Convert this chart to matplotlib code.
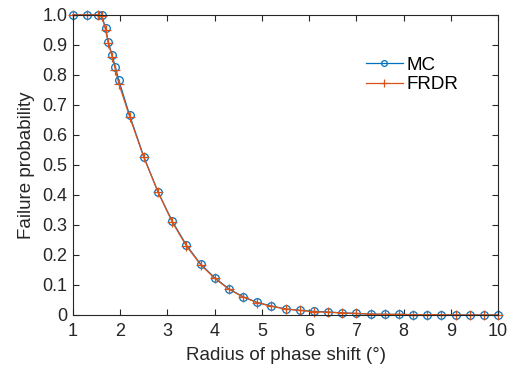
import matplotlib
matplotlib.use("Agg")
import matplotlib.pyplot as plt
import numpy as np

plt.rcParams['font.family'] = ['Liberation Sans', 'DejaVu Sans']

# radius of phase shift (deg)
radius = [1.0, 1.3, 1.52, 1.61, 1.69, 1.75, 1.83, 1.9, 1.97,
          2.2, 2.5, 2.8, 3.1, 3.4, 3.7, 4.0, 4.3, 4.6, 4.9, 5.2, 5.5, 5.8,
          6.1, 6.4, 6.7, 7.0, 7.3, 7.6, 7.9, 8.2, 8.5, 8.8, 9.1, 9.4, 9.7, 10.0]

# failure probability
mc = [1.0, 1.0, 1.0, 0.998, 0.955, 0.908, 0.865, 0.825, 0.782,
      0.665, 0.527, 0.41, 0.313, 0.233, 0.170, 0.124, 0.087, 0.061, 0.042, 0.030, 0.020, 0.016,
      0.012, 0.010, 0.007, 0.005, 0.003, 0.002, 0.002, 0.001, 0.001, 0.001, 0.0, 0.0, 0.0, 0.0]
frdr = [1.0, 1.0, 1.0, 0.996, 0.95, 0.905, 0.86, 0.816, 0.771,
        0.66, 0.525, 0.41, 0.31, 0.23, 0.168, 0.122, 0.086, 0.060, 0.041, 0.029, 0.020, 0.015,
        0.011, 0.009, 0.007, 0.005, 0.003, 0.002, 0.002, 0.001, 0.001, 0.001, 0.0, 0.0, 0.0, 0.0]

x_ticks = np.arange(1, 11)
y_ticks = np.round(np.arange(0, 1.01, 0.1), 1)
y_labels = ['0'] + ['%.1f' % v for v in y_ticks[1:]]

blue = (0.0, 0.447, 0.741)
orange = (0.85, 0.325, 0.098)

fig = plt.figure(figsize=(5.14, 3.71), dpi=100)
ax = fig.add_axes([0.142, 0.151, 0.827, 0.809])

ax.plot(radius, mc, '-o', color=blue, lw=0.9, markersize=5.5,
        markerfacecolor='none', markeredgewidth=0.9, label='MC', clip_on=False)
ax.plot(radius, frdr, '-+', color=orange, lw=0.9, markersize=7,
        markeredgewidth=0.9, label='FRDR', clip_on=False)

ax.set_xlim(1, 10)
ax.set_ylim(0, 1.0)
ax.set_xticks(x_ticks)
ax.set_yticks(y_ticks)
ax.set_yticklabels(y_labels)
ax.tick_params(direction='in', top=True, right=True, labelsize=13,
               length=4.5, width=0.8, colors='#262626', pad=4)
ax.tick_params(axis='x', pad=6)
for s in ax.spines.values():
    s.set_linewidth(0.8)
    s.set_color('#262626')

ax.set_xlabel('Radius of phase shift (°)', fontsize=13.5, color='#262626', labelpad=5)
ax.set_ylabel('Failure probability', fontsize=13.5, color='#262626', labelpad=5)

ax.legend(loc='upper left', bbox_to_anchor=(0.712, 0.847),
          bbox_transform=fig.transFigure, frameon=False, fontsize=13.5,
          borderpad=0, borderaxespad=0, handlelength=1.95, handletextpad=0.2,
          labelspacing=0.12, markerscale=0.75)

fig.savefig('out.png', dpi=100)
